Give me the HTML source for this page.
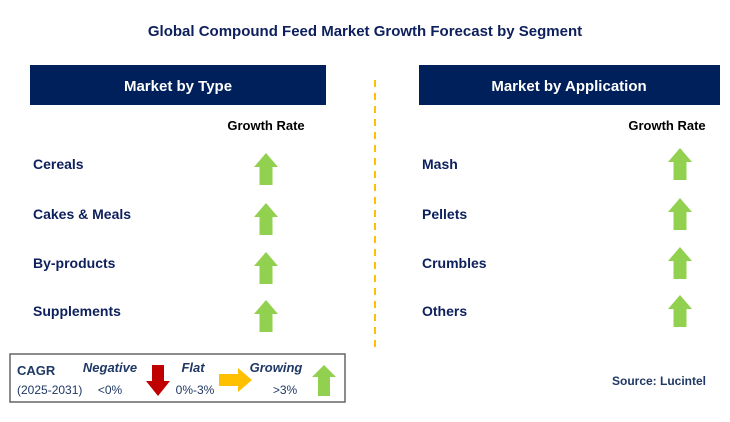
<!DOCTYPE html>
<html><head><meta charset="utf-8"><style>
body{margin:0;background:#fff}
svg{display:block;font-family:"Liberation Sans",sans-serif}
</style></head><body>
<svg width="730" height="422" viewBox="0 0 730 422">
<text x="365" y="36" text-anchor="middle" font-size="15" font-weight="bold" fill="#0d1f5c">Global Compound Feed Market Growth Forecast by Segment</text>
<rect x="30" y="65" width="296" height="40" fill="#00205b"/>
<text x="178" y="91" text-anchor="middle" font-size="15" font-weight="bold" fill="#fff">Market by Type</text>
<rect x="419" y="65" width="301" height="40" fill="#00205b"/>
<text x="569" y="91" text-anchor="middle" font-size="15" font-weight="bold" fill="#fff">Market by Application</text>
<line x1="375" y1="80" x2="375" y2="348" stroke="#ffc000" stroke-width="2" stroke-dasharray="7,6"/>
<text x="266" y="130" text-anchor="middle" font-size="13" font-weight="bold" fill="#000">Growth Rate</text>
<text x="667" y="130" text-anchor="middle" font-size="13" font-weight="bold" fill="#000">Growth Rate</text>
<g id="rows"></g>
<rect x="10" y="354" width="335" height="48" fill="#fff" stroke="#666" stroke-width="1.5"/>
<text x="17" y="375" font-size="13" font-weight="bold" fill="#1f3864">CAGR</text>
<text x="17" y="394" font-size="12" fill="#1f3864">(2025-2031)</text>
<text x="110" y="372" text-anchor="middle" font-size="13" font-weight="bold" font-style="italic" fill="#1f3864">Negative</text>
<text x="110" y="394" text-anchor="middle" font-size="12" fill="#1f3864">&lt;0%</text>
<polygon points="152,365 164,365 164,381 170,381 158,396 146,381 152,381" fill="#c00000"/>
<text x="193" y="372" text-anchor="middle" font-size="13" font-weight="bold" font-style="italic" fill="#1f3864">Flat</text>
<text x="195" y="394" text-anchor="middle" font-size="12" fill="#1f3864">0%-3%</text>
<polygon points="219,374 238,374 238,368 252,380 238,392 238,386 219,386" fill="#ffc000"/>
<text x="276" y="372" text-anchor="middle" font-size="13" font-weight="bold" font-style="italic" fill="#1f3864">Growing</text>
<text x="285" y="394" text-anchor="middle" font-size="12" fill="#1f3864">&gt;3%</text>
<polygon points="324,365 336,377 330,377 330,396 318,396 318,377 312,377" fill="#92d050"/>
<text x="706" y="385" text-anchor="end" font-size="12" font-weight="bold" fill="#1f3864">Source: Lucintel</text>
</svg>
<script>
const typeLabels=["Cereals","Cakes & Meals","By-products","Supplements"];
const appLabels=["Mash","Pellets","Crumbles","Others"];
const rowY=[164,214,263,311];
const g=document.getElementById('rows');
const NS="http://www.w3.org/2000/svg";
function arrow(cx,cy,name){
  const p=document.createElementNS(NS,'polygon');
  const t=cy-16,b=cy+16,h=t+14;
  p.setAttribute('points',`${cx},${t} ${cx+12},${h} ${cx+6.5},${h} ${cx+6.5},${b} ${cx-6.5},${b} ${cx-6.5},${h} ${cx-12},${h}`);
  p.setAttribute('fill','#92d050');
  
  
  g.appendChild(p);
}
function label(x,y,s,name){
  const t=document.createElementNS(NS,'text');
  t.setAttribute('x',x);t.setAttribute('y',y+5);
  t.setAttribute('font-size','14');t.setAttribute('font-weight','bold');t.setAttribute('fill','#0d1f5c');
  t.textContent=s;
  
  
  g.appendChild(t);
}
typeLabels.forEach((s,i)=>{label(33,rowY[i],s,'type-label');arrow(266,rowY[i]+5,'type-growth-arrow');});
appLabels.forEach((s,i)=>{label(422,rowY[i],s,'application-label');arrow(680,rowY[i],'application-growth-arrow');});
</script>
</body></html>
